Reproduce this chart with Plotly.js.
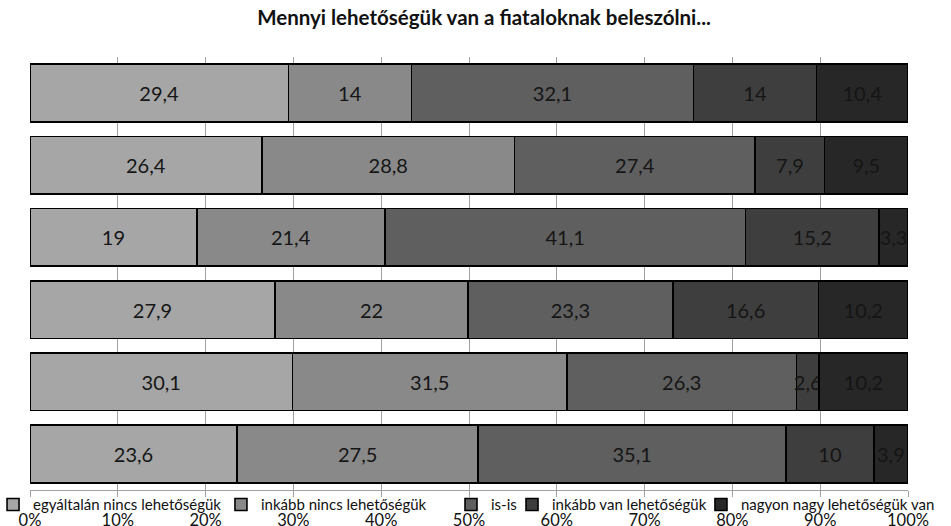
<!DOCTYPE html>
<html>
<head>
<meta charset="utf-8">
<script src="https://cdn.plot.ly/plotly-3.0.1.min.js"></script>
<style>html,body{margin:0;padding:0;background:#fff;}#chart{width:951px;height:526px;}</style>
</head>
<body>
<div id="chart"></div>
<script>
const rows = ["r1", "r2", "r3", "r4", "r5", "r6"];
const seriesNames = ["egyáltalán nincs lehetőségük", "inkább nincs lehetőségük", "is-is", "inkább van lehetőségük", "nagyon nagy lehetőségük van"];
const s1 = [29.4, 26.4, 19, 27.9, 30.1, 23.6];
const s2 = [14, 28.8, 21.4, 22, 31.5, 27.5];
const s3 = [32.1, 27.4, 41.1, 23.3, 26.3, 35.1];
const s4 = [14, 7.9, 15.2, 16.6, 2.6, 10];
const s5 = [10.4, 9.5, 3.3, 10.2, 10.2, 3.9];
const tickVals = [0, 10, 20, 30, 40, 50, 60, 70, 80, 90, 100];
const tickLabels = ["0%", "10%", "20%", "30%", "40%", "50%", "60%", "70%", "80%", "90%", "100%"];
const colors = ["#a6a6a6", "#898989", "#5f5f5f", "#3e3e3e", "#272727"];

const FONT = "Lato, 'Open Sans', sans-serif";
const legendIds = ["legend", "legend2", "legend3", "legend4", "legend5"];
const legendX = [-0.0421, 0.2175, 0.4795, 0.5490, 0.7642];

const allSeries = [s1, s2, s3, s4, s5];
const fmt = v => String(v).replace(".", ",");
const traces = allSeries.map((s, i) => ({
  type: "bar",
  orientation: "h",
  name: seriesNames[i],
  legend: legendIds[i],
  y: rows,
  x: s,
  text: s.map(fmt),
  textposition: "inside",
  insidetextanchor: "middle",
  textangle: 0,
  constraintext: "none",
  textfont: {family: FONT, size: 20, color: "#151515"},
  marker: {color: colors[i], line: {color: "#000", width: 1.6}},
  hoverinfo: "name+x"
}));

const layout = {
  width: 951, height: 526,
  margin: {l: 30, r: 43, t: 57, b: 36, autoexpand: false},
  paper_bgcolor: "#fff", plot_bgcolor: "#fff",
  separators: ", ",
  barmode: "stack",
  barnorm: "percent",
  bargap: 0.2,
  uniformtext: {mode: "show", minsize: 20},
  title: {text: "<b>Mennyi lehetőségük van a fiataloknak beleszólni...</b>", xref: "container", x: 0.509, xanchor: "center",
          yref: "container", y: 0.966, yanchor: "middle",
          font: {family: FONT, size: 20.5, color: "#111"}},
  xaxis: {range: [0, 100], tickvals: tickVals, ticktext: tickLabels, showgrid: true, gridcolor: "#a0a0a0", gridwidth: 1,
          ticks: "outside", ticklen: 6, tickcolor: "#a0a0a0", showline: true, linecolor: "#a0a0a0", zeroline: false,
          ticklabelstandoff: 9,
          tickfont: {family: FONT, size: 16.5, color: "#111"}, fixedrange: true},
  yaxis: {type: "category", categoryorder: "array", categoryarray: rows, autorange: "reversed", showticklabels: false,
          showgrid: false, zeroline: false, showline: false, ticks: ""},
  showlegend: true
};
legendIds.forEach((id, i) => {
  layout[id] = {orientation: "h", x: legendX[i], xanchor: "left", y: 0.004, yanchor: "top",
                font: {family: FONT, size: 15, color: "#111"}, bgcolor: "rgba(0,0,0,0)", itemwidth: 30};
});
Plotly.newPlot("chart", traces, layout, {displayModeBar: false, staticPlot: true});
</script>
</body>
</html>
